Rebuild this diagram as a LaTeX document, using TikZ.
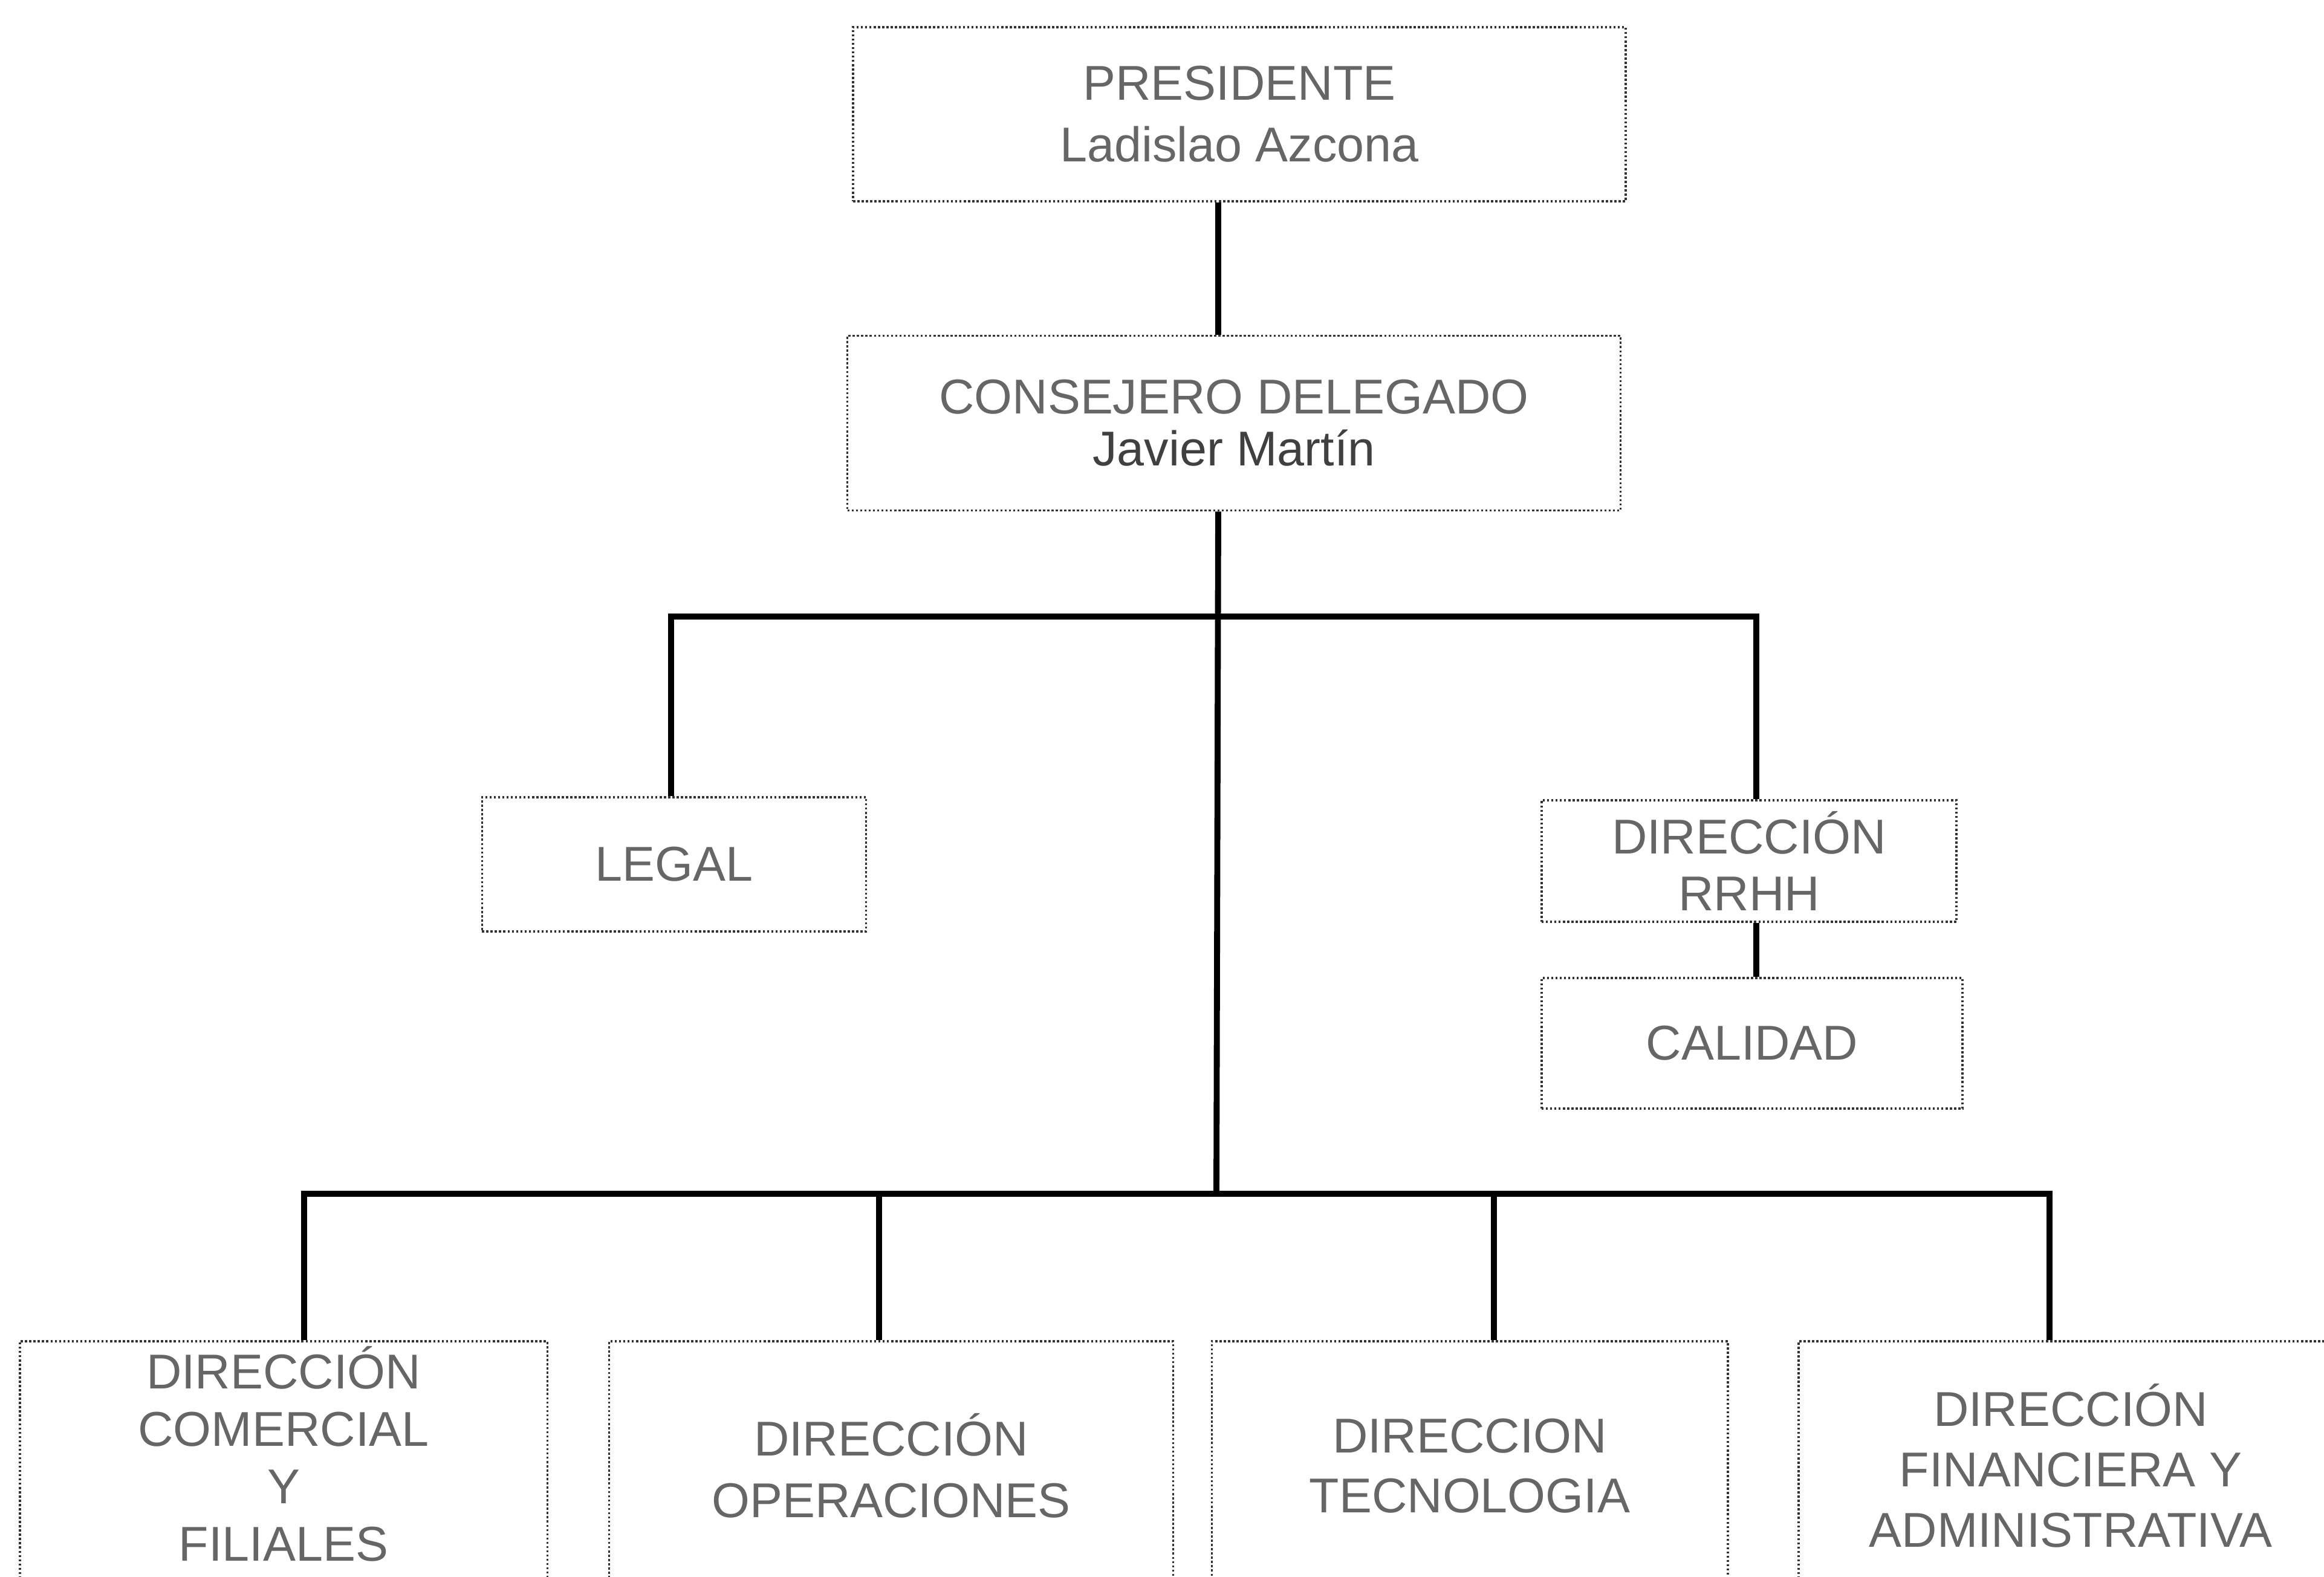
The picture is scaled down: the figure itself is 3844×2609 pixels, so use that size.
\documentclass[tikz,border=0pt]{standalone}
\usepackage{fontspec}
\setmainfont{Liberation Sans}
\begin{document}
\begin{tikzpicture}[x=0.01cm,y=-0.01cm,
  box/.style={draw=black!80, line width=1pt, densely dotted, rectangle, inner sep=0pt,
    align=center, text=black!60},
  fs/.style={font=\fontsize{23pt}{#1}\selectfont},
  conn/.style={draw=black, line width=2.8pt, solid}]
\useasboundingbox (0,0) rectangle (3844,2609);
\clip (0,0) rectangle (3844,2609);
\fill[white] (0,0) rectangle (3844,2609);

% nodes
\node[box, fs=29pt, minimum width=12.77cm, minimum height=2.88cm] (pres) at (2050,189)
  {PRESIDENTE\\Ladislao Azcona};
\node[box, fs=24.5pt, minimum width=12.78cm, minimum height=2.89cm] (cons) at (2041,700)
  {CONSEJERO DELEGADO\\\textcolor{black!75}{Javier Martín}};
\node[box, fs=26pt, minimum width=6.35cm, minimum height=2.22cm] (legal) at (1115,1430) {LEGAL};
\node[box, fs=26.5pt, minimum width=6.86cm, minimum height=2.01cm] (rrhh) at (2893,1424.5)
  {DIRECCIÓN\\RRHH};
\node[box, fs=26pt, minimum width=6.96cm, minimum height=2.16cm] (cal) at (2898,1726) {CALIDAD};
\node[box, minimum width=8.72cm, minimum height=4.12cm] (b1) at (469,2425) {};
\node[fs=27pt, align=center, text=black!60, inner sep=0pt] (b1t) at (469,2405)
  {DIRECCIÓN\\COMERCIAL\\Y\\FILIALES};
\node[box, fs=29pt, minimum width=9.32cm, minimum height=4.12cm] (b2) at (1474,2425)
  {DIRECCIÓN\\OPERACIONES};
\node[box, fs=28pt, minimum width=8.53cm, minimum height=4.12cm] (b3) at (2431,2425)
  {DIRECCION\\TECNOLOGIA};
\node[box, fs=28.5pt, minimum width=9.0cm, minimum height=4.12cm] (b4) at (3425,2425)
  {DIRECCIÓN\\FINANCIERA Y\\ADMINISTRATIVA};

% junction coordinates
\coordinate (t) at (2015,0);
\coordinate (j2) at (2012,1975);
\coordinate (l1) at (1110,1020);
\coordinate (r1) at (2905,1020);
\coordinate (a2) at (503,1975);
\coordinate (bb2) at (1454,1975);
\coordinate (cc2) at (2471,1975);
\coordinate (d2) at (3390,1975);

% connectors
\draw[conn] (pres.south -| t) -- (cons.north -| t);
\draw[conn] (cons.south -| t) -- (j2);
\draw[conn] (legal.north -| l1) -- (l1) -- (r1) -- (rrhh.north -| r1);
\draw[conn] (rrhh.south -| r1) -- (cal.north -| r1);
\draw[conn] (b1.north -| a2) -- (a2) -- (d2) -- (b4.north -| d2);
\draw[conn] (bb2) -- (b2.north -| bb2);
\draw[conn] (cc2) -- (b3.north -| cc2);
\end{tikzpicture}
\end{document}
